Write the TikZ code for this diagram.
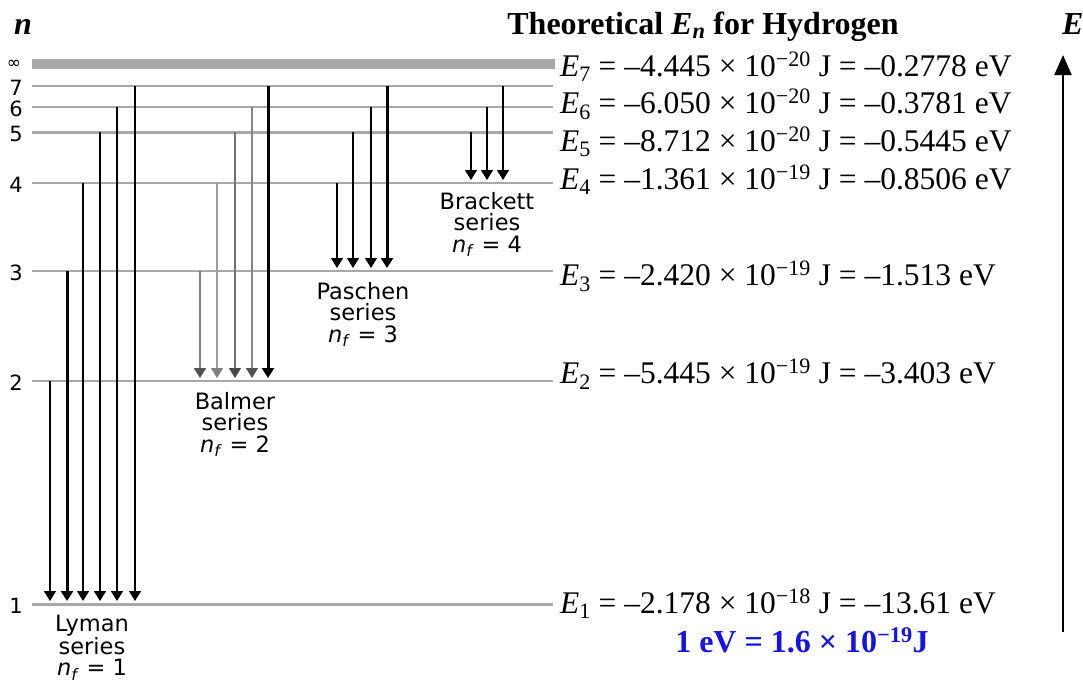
\documentclass[tikz,border=0pt]{standalone}
\usepackage{fontspec}
\setmainfont{Liberation Serif}
\setsansfont{DejaVu Sans}
\newfontfamily\symfont{DejaVu Sans}
\usepackage{xcolor}
\usetikzlibrary{arrows.meta}
\newcommand{\hf}{\fontsize{32}{36}\selectfont\bfseries}
\newcommand{\enf}{\fontsize{31.5}{36}\selectfont}
\newcommand{\numf}{\sffamily\fontsize{21}{24}\selectfont}
\newcommand{\serf}{\sffamily\fontsize{22.5}{21.5}\selectfont}
\newcommand{\nfin}[1]{\textit{n}\textsubscript{\textit{f}} = #1}
\newcommand{\en}[4]{\textit{E}\textsubscript{#1} = –#2 × 10\textsuperscript{−#3} J = –#4 eV}
\definecolor{lvlgray}{HTML}{A8A8A8}
\definecolor{evblue}{HTML}{1414E6}

\begin{document}
\begin{tikzpicture}[x=1pt, y=-1pt, every node/.style={inner sep=0pt, outer sep=0pt},
  lvl/.style={lvlgray, line width=2pt},
  tr/.style={-{Triangle[width=12pt,length=10pt]}, line width=1.4pt},
  trk/.style={-{Triangle[width=12pt,length=10pt]}, line width=3pt},
  serlbl/.style={anchor=north, align=center, font=\serf}]
\useasboundingbox (0,0) rectangle (1083,685);
% ---- level heights (pixels from the top)
\def\lvlI{604}\def\lvlII{381}\def\lvlIII{271}\def\lvlIV{183}
\def\lvlV{132}\def\lvlVI{107}\def\lvlVII{86}\def\lvlinf{64}
% ---- one transition: #1 name, #2 x, #3 upper y, #4 lower y, #5 style
\newcommand{\trans}[5]{%
  \coordinate (#1u) at (#2,#3);
  \coordinate (#1d) at (#2,#4-3);
  \draw[#5] (#1u) -- (#1d);}
% ---- headings
\node[anchor=base west, font=\hf] (nhead) at (14,35) {\textit{n}};
\node[anchor=base, font=\hf] (title) at (703,35) {Theoretical \textit{E}\textsubscript{\textit{n}} for Hydrogen};
\node[anchor=base west, font=\hf] (ehead) at (1062,35) {\textit{E}};
% ---- levels
\draw[lvlgray, line width=9pt] (32,\lvlinf) -- (555,\lvlinf);
\node[font=\symfont\fontsize{17}{18}\selectfont] (ninf) at (14,\lvlinf) {∞};
\foreach \n/\y/\w in {1/\lvlI/3, 2/\lvlII/2, 3/\lvlIII/2, 4/\lvlIV/2, 5/\lvlV/3, 6/\lvlVI/2, 7/\lvlVII/2} {
  \draw[lvl, line width=\w pt] (32,\y) -- (553,\y);
  \node[font=\numf] (num\n) at (16,\y+2) {\n};
}
% ---- energies
\node[anchor=base west, font=\enf] (e7) at (560,76) {\en{7}{4.445}{20}{0.2778}};
\node[anchor=base west, font=\enf] (e6) at (560,113) {\en{6}{6.050}{20}{0.3781}};
\node[anchor=base west, font=\enf] (e5) at (560,151) {\en{5}{8.712}{20}{0.5445}};
\node[anchor=base west, font=\enf] (e4) at (560,189) {\en{4}{1.361}{19}{0.8506}};
\node[anchor=base west, font=\enf] (e3) at (560,285) {\en{3}{2.420}{19}{1.513}};
\node[anchor=base west, font=\enf] (e2) at (560,383) {\en{2}{5.445}{19}{3.403}};
\node[anchor=base west, font=\enf] (e1) at (560,613) {\en{1}{2.178}{18}{13.61}};
\node[anchor=base, font=\hf, text=evblue] (conv) at (802,652) {1 eV = 1.6 × 10\textsuperscript{−19}J};
% ---- energy axis
\coordinate (axbot) at (1063,632);
\coordinate (axtop) at (1063,55);
\draw[-{Triangle[width=17pt,length=20pt]}, line width=2pt] (axbot) -- (axtop);
% ---- Lyman
\trans{ly2}{50}{\lvlII}{\lvlI}{tr}
\trans{ly3}{67}{\lvlIII}{\lvlI}{trk}
\trans{ly4}{83}{\lvlIV}{\lvlI}{tr}
\trans{ly5}{100}{\lvlV}{\lvlI}{tr}
\trans{ly6}{117}{\lvlVI}{\lvlI}{tr}
\trans{ly7}{135}{\lvlVII}{\lvlI}{tr}
\node[serlbl] (lyman) at (92,615) {Lyman\\series\\\nfin{1}};
% ---- Balmer
\trans{ba3}{200}{\lvlIII}{\lvlII}{tr, draw=black!50, -{Triangle[width=12pt,length=10pt,color=black!68]}}
\trans{ba4}{217}{\lvlIV}{\lvlII}{tr, draw=black!38, -{Triangle[width=12pt,length=10pt,color=black!50]}}
\trans{ba5}{235}{\lvlV}{\lvlII}{tr, draw=black!55, -{Triangle[width=12pt,length=10pt,color=black!72]}}
\trans{ba6}{252}{\lvlVI}{\lvlII}{tr, draw=black!48, -{Triangle[width=12pt,length=10pt,color=black!68]}}
\trans{ba7}{268}{\lvlVII}{\lvlII}{trk}
\node[serlbl] (balmer) at (235,392) {Balmer\\series\\\nfin{2}};
% ---- Paschen
\trans{pa4}{337}{\lvlIV}{\lvlIII}{tr}
\trans{pa5}{353}{\lvlV}{\lvlIII}{tr}
\trans{pa6}{371}{\lvlVI}{\lvlIII}{tr}
\trans{pa7}{387}{\lvlVII}{\lvlIII}{trk}
\node[serlbl] (paschen) at (363,282) {Paschen\\series\\\nfin{3}};
% ---- Brackett
\trans{br5}{471}{\lvlV}{\lvlIV}{tr}
\trans{br6}{487}{\lvlVI}{\lvlIV}{tr}
\trans{br7}{503}{\lvlVII}{\lvlIV}{tr}
\node[serlbl] (brackett) at (487,192) {Brackett\\series\\\nfin{4}};
\end{tikzpicture}
\end{document}
